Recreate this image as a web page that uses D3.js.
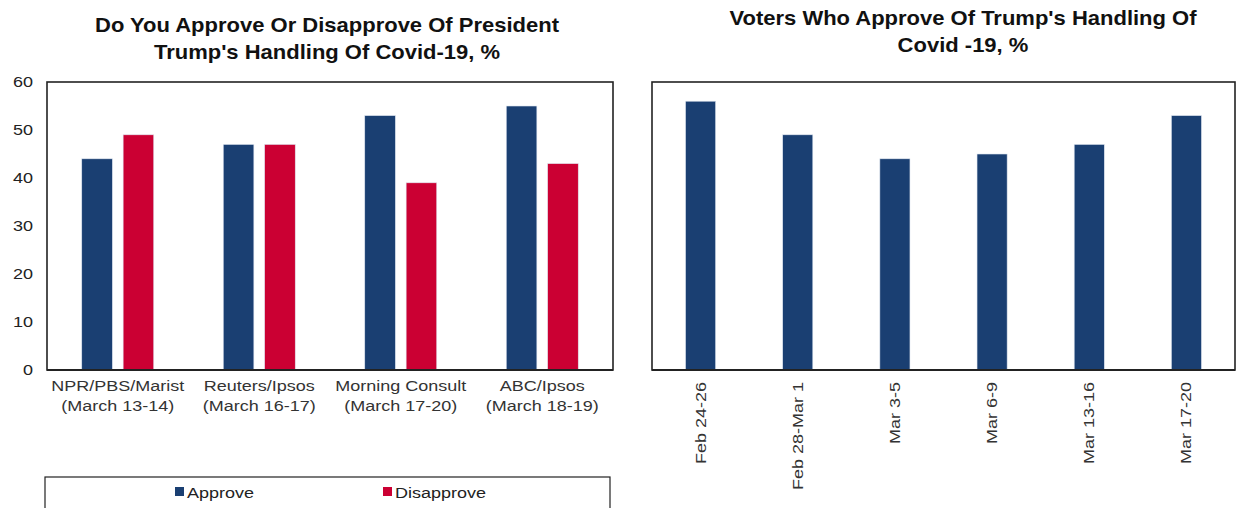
<!DOCTYPE html>
<html><head><meta charset="utf-8">
<script src="https://cdn.jsdelivr.net/npm/d3@7/dist/d3.min.js"></script>
<style>body{margin:0;background:#fff;font-family:"Liberation Sans",Arial,sans-serif;} text{font-family:"Liberation Sans",Arial,sans-serif;}</style>
</head><body><svg id="c" width="1244" height="508"></svg>
<script>
const pollCategories = [["NPR/PBS/Marist","(March 13-14)"],["Reuters/Ipsos","(March 16-17)"],["Morning Consult","(March 17-20)"],["ABC/Ipsos","(March 18-19)"]];
const approveValues = [44, 47, 53, 55];
const disapproveValues = [49, 47, 39, 43];
const seriesNames = ["Approve","Disapprove"];
const yTicks = [0,10,20,30,40,50,60];
const dateCategories = ["Feb 24-26","Feb 28-Mar 1","Mar 3-5","Mar 6-9","Mar 13-16","Mar 17-20"];
const voterApprove = [56, 49, 44, 45, 47, 53];
const titleLeft = ["Do You Approve Or Disapprove Of President","Trump's Handling Of Covid-19, %"];
const titleRight = ["Voters Who Approve Of Trump's Handling Of","Covid -19, %"];

const NAVY = "#1a3f72", RED = "#cb0033";
const SX = 1.2, TSX = 1.1;
const svg = d3.select("#c");

// ---------- Left chart ----------
const L = {x0:47, x1:613, y0:82, y1:370};
const yL = d3.scaleLinear().domain([0,60]).range([L.y1, L.y0]);
const xL = d3.scaleBand().domain(d3.range(pollCategories.length)).range([L.x0, L.x1]);
const inner = d3.scaleBand().domain([0,1]).range([0, 72]).paddingInner(0.26);

svg.append("g").selectAll("text").data(titleLeft).join("text")
  .attr("transform",(d,i)=>`translate(327,${32+i*27}) scale(${TSX},1)`).attr("text-anchor","middle")
  .attr("font-size",20).attr("font-weight","bold").attr("fill","#111").text(d=>d);

const gL = svg.append("g");
const yAx = gL.append("g").attr("transform",`translate(${L.x0},0)`)
  .call(d3.axisLeft(yL).tickValues(yTicks).tickSize(0).tickPadding(14))
  .call(g=>g.select(".domain").remove());
yAx.selectAll("text").attr("font-size",15).attr("fill","#222").attr("x",0).attr("dy",null)
  .attr("dominant-baseline","central")
  .attr("transform",`translate(-14,0) scale(${SX},1)`);

const groups = gL.selectAll("g.grp").data(pollCategories.map((c,i)=>({i,vals:[approveValues[i],disapproveValues[i]]})))
  .join("g").attr("transform",d=>`translate(${xL(d.i)+xL.bandwidth()/2-36},0)`);
groups.selectAll("rect").data(d=>d.vals.map((v,k)=>({v,k}))).join("rect")
  .attr("x",d=>inner(d.k)).attr("width",inner.bandwidth())
  .attr("y",d=>yL(d.v)).attr("height",d=>yL(0)-yL(d.v))
  .attr("fill",d=>d.k===0?NAVY:RED).attr("stroke","#dfe6f0").attr("stroke-width",0.6);

gL.append("rect").attr("x",L.x0).attr("y",L.y0).attr("width",L.x1-L.x0).attr("height",L.y1-L.y0)
  .attr("fill","none").attr("stroke","#222").attr("stroke-width",1.6);
gL.append("line").attr("x1",L.x0).attr("x2",L.x1).attr("y1",L.y1).attr("y2",L.y1).attr("stroke","#222").attr("stroke-width",2);

pollCategories.forEach((lines,i)=>{
  lines.forEach((t,j)=>{
    gL.append("text").attr("text-anchor","middle").attr("font-size",15).attr("fill","#333")
      .attr("transform",`translate(${xL(i)+xL.bandwidth()/2},${391+j*20}) scale(${SX},1)`).text(t);
  });
});

// Legend
const lg = svg.append("g");
lg.append("rect").attr("x",45).attr("y",477).attr("width",565).attr("height",40).attr("fill","#fff").attr("stroke","#222").attr("stroke-width",1.2);
const legX = [175, 383];
seriesNames.forEach((n,i)=>{
  lg.append("rect").attr("x",legX[i]).attr("y",487).attr("width",9).attr("height",9).attr("fill",i===0?NAVY:RED);
  lg.append("text").attr("transform",`translate(${legX[i]+12},498) scale(${SX},1)`).attr("font-size",15).attr("fill","#222").text(n);
});

// ---------- Right chart ----------
const R = {x0:652, x1:1235, y0:82, y1:370};
const yR = d3.scaleLinear().domain([0,60]).range([R.y1, R.y0]);
const xR = d3.scaleBand().domain(dateCategories).range([R.x0, R.x1]).paddingInner(0.69).paddingOuter(0.345);

svg.append("g").selectAll("text").data(titleRight).join("text")
  .attr("transform",(d,i)=>`translate(963,${25+i*27}) scale(${TSX},1)`).attr("text-anchor","middle")
  .attr("font-size",20).attr("font-weight","bold").attr("fill","#111").text(d=>d);

const gR = svg.append("g");
gR.selectAll("rect.b").data(dateCategories.map((c,i)=>({c,v:voterApprove[i]}))).join("rect")
  .attr("x",d=>xR(d.c)).attr("width",xR.bandwidth())
  .attr("y",d=>yR(d.v)).attr("height",d=>yR(0)-yR(d.v))
  .attr("fill",NAVY).attr("stroke","#dfe6f0").attr("stroke-width",0.6);
gR.append("rect").attr("x",R.x0).attr("y",R.y0).attr("width",R.x1-R.x0).attr("height",R.y1-R.y0)
  .attr("fill","none").attr("stroke","#222").attr("stroke-width",1.6);
gR.append("line").attr("x1",R.x0).attr("x2",R.x1).attr("y1",R.y1).attr("y2",R.y1).attr("stroke","#222").attr("stroke-width",2);

gR.selectAll("text.xr").data(dateCategories).join("text")
  .attr("text-anchor","end").attr("font-size",15).attr("fill","#333")
  .attr("transform",d=>`translate(${xR(d)+xR.bandwidth()/2+5},382) rotate(-90) scale(${SX},1)`)
  .text(d=>d);
</script></body></html>
